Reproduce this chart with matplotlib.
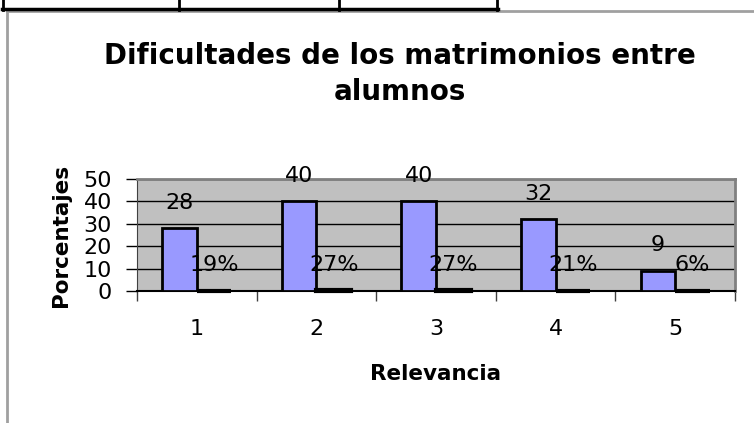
import matplotlib.pyplot as plt
from matplotlib.lines import Line2D
import numpy as np

plt.rcParams['font.family'] = ['DejaVu Sans']

categories = ['1', '2', '3', '4', '5']
cantidad = [28, 40, 40, 32, 9]
porcentaje = [0.19, 0.27, 0.27, 0.21, 0.06]
porcentaje_labels = ['19%', '27%', '27%', '21%', '6%']

W, H = 754, 423
fig = plt.figure(figsize=(W / 100, H / 100), dpi=100)
ax = fig.add_axes([137 / W, 1 - 291 / H, (735 - 137) / W, (291 - 179) / H])

x = np.arange(1, len(categories) + 1)
bw = 0.29
b1 = ax.bar(x - bw, cantidad, bw, align='edge', color='#9999FF',
            edgecolor='black', linewidth=2, zorder=3)
b2 = ax.bar(x, porcentaje, bw, align='edge', color='#993366',
            edgecolor='black', linewidth=3, zorder=3, clip_on=False)

for rect, v in zip(b1, cantidad):
    ax.annotate(str(v), (rect.get_x() + rect.get_width() / 2, rect.get_height()),
                xytext=(0, 18.5), textcoords='offset points', ha='center',
                va='center', fontsize=16, clip_on=False, zorder=5)
for rect, lab in zip(b2, porcentaje_labels):
    ax.annotate(lab, (rect.get_x() + rect.get_width() / 2, rect.get_height()),
                xytext=(0, 18.5), textcoords='offset points', ha='center',
                va='center', fontsize=16, clip_on=False, zorder=5)

ax.set_xlim(0.5, len(categories) + 0.5)
ax.set_ylim(0, 50)
ax.set_facecolor('#C0C0C0')
ax.set_yticks([0, 10, 20, 30, 40, 50])
ax.yaxis.grid(True, color='black', linewidth=1, zorder=1)
ax.set_axisbelow(True)
ax.tick_params(axis='y', length=8, width=1, pad=10, labelsize=16)

ax.set_xticks(x)
ax.set_xticklabels(categories)
ax.set_xticks(np.arange(0.5, len(categories) + 1, 1), minor=True)
ax.tick_params(axis='x', which='major', length=0, pad=20, labelsize=16)
ax.tick_params(axis='x', which='minor', length=7, width=1, color='#404040')

for s in ['top', 'right']:
    ax.spines[s].set_color('#808080')
    ax.spines[s].set_linewidth(2)
ax.spines['left'].set_color('#404040')
ax.spines['bottom'].set_color('black')
ax.spines['bottom'].set_linewidth(1.5)

ax.set_xlabel('Relevancia', fontsize=15.5, fontweight='bold', labelpad=18)
ax.set_ylabel('Porcentajes', fontsize=15.5, fontweight='bold', labelpad=9)

fig.text(400 / W, 1 - 74 / H, 'Dificultades de los matrimonios entre\nalumnos',
         ha='center', va='center', fontsize=20, fontweight='bold',
         linespacing=1.35)

# chart frame and the table fragment above it
def fig_line(xs, ys, **kw):
    fig.add_artist(Line2D([v / W for v in xs], [1 - v / H for v in ys], **kw))

fig_line([7, 7], [11, 423], color='#A0A0A0', linewidth=2)
fig_line([7, 754], [11, 11], color='#A0A0A0', linewidth=2)
fig_line([2, 498], [9.5, 9.5], color='black', linewidth=2.5)
for xv in [3, 179, 339, 497]:
    fig_line([xv, xv], [0, 10], color='black', linewidth=2)

fig.savefig('out.png', dpi=100)
